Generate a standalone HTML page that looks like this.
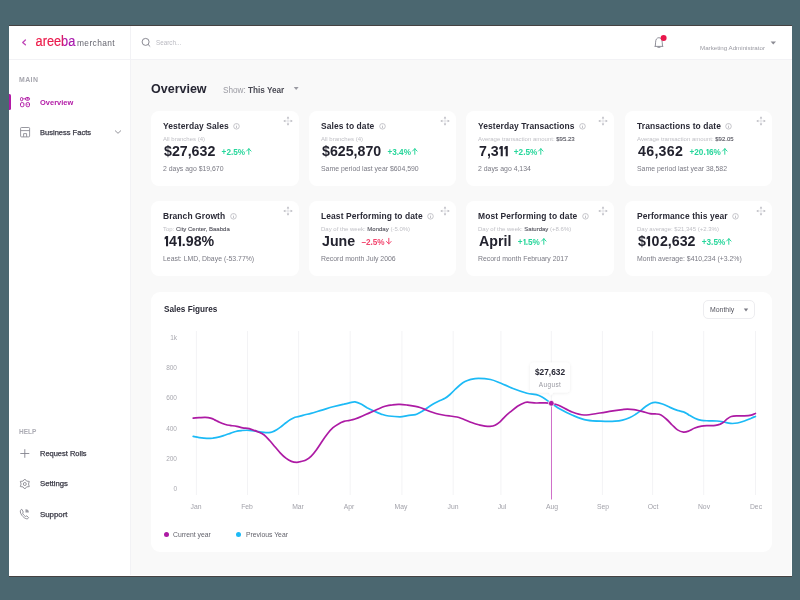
<!DOCTYPE html>
<html><head><meta charset="utf-8">
<style>
*{margin:0;padding:0;box-sizing:border-box}
.a{will-change:transform}
html,body{width:800px;height:600px;overflow:hidden;background:#4b6770;font-family:"Liberation Sans",sans-serif;position:relative}
.a{position:absolute;white-space:nowrap;line-height:1}
.b{font-weight:700}
.m{-webkit-text-stroke:0.25px currentColor}
.one{position:relative;display:inline-block;vertical-align:baseline;margin-left:0.4px}
.card{position:absolute;background:#fff;border-radius:8px;width:148px;height:75px}
svg{position:absolute;overflow:visible}
</style></head><body>
<div style="position:absolute;left:9px;top:25px;width:783px;height:1px;background:#454242"></div>
<div style="position:absolute;left:9px;top:576px;width:783px;height:1px;background:#454242"></div>
<div style="position:absolute;left:9px;top:26px;width:783px;height:550px;background:#fff"></div>
<div style="position:absolute;left:131px;top:60px;width:660px;height:515px;background:#f9f9f9"></div>
<div style="position:absolute;left:9px;top:59px;width:783px;height:1px;background:#f2f2f5"></div>
<div style="position:absolute;left:130px;top:26px;width:1px;height:549px;background:#f2f2f5"></div>
<svg style="left:20px;top:37px" width="8" height="11" viewBox="0 0 8 11"><path d="M5.4,3 L2.7,5.4 L5.4,7.8" fill="none" stroke="#c04ab9" stroke-width="1.35" stroke-linecap="round" stroke-linejoin="round"/></svg>
<svg style="left:34px;top:30px;will-change:transform" width="90" height="20" viewBox="0 0 90 20"><defs><linearGradient id="lg" gradientUnits="userSpaceOnUse" x1="0" x2="42" y1="0" y2="0"><stop offset="0" stop-color="#ee1b47"/><stop offset="0.66" stop-color="#e8194f"/><stop offset="0.72" stop-color="#b21aa8"/><stop offset="1" stop-color="#a518ae"/></linearGradient></defs>
<text x="1.6" y="16.2" font-family="Liberation Sans" font-size="14" fill="url(#lg)" stroke="url(#lg)" stroke-width="0.2" textLength="39.7" lengthAdjust="spacingAndGlyphs">areeba</text></svg>
<div class="a" style="left:77.2px;top:38.79px;font-size:8.4px;color:#65656f;letter-spacing:0.38px;">merchant</div>
<svg style="left:140px;top:36px" width="12" height="12" viewBox="0 0 12 12"><circle cx="5.6" cy="5.9" r="3.5" fill="none" stroke="#7c7c86" stroke-width="0.9"/><path d="M8.3,8.7 L9.9,10.3" stroke="#7c7c86" stroke-width="0.9" stroke-linecap="round"/></svg>
<div class="a" style="left:156.1px;top:39.77px;font-size:6.3px;color:#b9b9c0;">Search...</div>
<svg style="left:652px;top:34px" width="16" height="16" viewBox="0 0 16 16"><path d="M2.5,12.4 L11.3,12.4 M3.3,12.3 L3.6,8.2 C3.6,5.4 5,3.7 6.9,3.7 C8.8,3.7 10.2,5.4 10.2,8.2 L10.5,12.3" fill="none" stroke="#85858e" stroke-width="0.9" stroke-linejoin="round"/><path d="M5.9,13.3 L7.9,13.3" stroke="#85858e" stroke-width="1.1" stroke-linecap="round"/><circle cx="11.6" cy="4" r="3" fill="#e9174b"/></svg>
<div class="a" style="left:700px;top:44.75px;font-size:6.2px;color:#9a9aa2;">Marketing Administrator</div>
<svg style="left:770px;top:40.5px" width="7" height="5" viewBox="0 0 7 5"><path d="M0.6,0.6 L6,0.6 L3.3,3.5Z" fill="#8c8c94"/></svg>
<div class="a b" style="left:19px;top:76.56px;font-size:6.9px;color:#a6a6ae;letter-spacing:0.45px;">MAIN</div>
<div style="position:absolute;left:9px;top:94px;width:2px;height:16px;background:#b21aa6;border-radius:0 1.5px 1.5px 0"></div>
<svg style="left:19px;top:96px" width="12" height="12" viewBox="0 0 12 12" fill="none" stroke="#b21aa6" stroke-width="1"><rect x="1.5" y="1.5" width="2.2" height="3.3" rx="1.1"/><rect x="6.4" y="1.5" width="4.1" height="2.7" rx="1.35"/><path d="M3.7,2.8 L6.4,2.8" stroke-width="0.8"/><path d="M7.7,2.5 L9.3,2.5 L8.5,3.3Z" fill="#b21aa6" stroke-width="0.5"/><rect x="1.5" y="6.6" width="3.4" height="4.1" rx="1.3"/><rect x="7.1" y="6.6" width="3.4" height="4.1" rx="1.3"/><path d="M8.8,7.9 L8.8,9.4" stroke-width="0.6"/></svg>
<div class="a b" style="left:40.1px;top:99.70px;font-size:6.5px;color:#b21aa6;transform:scaleX(1.15);transform-origin:0 0;">Overview</div>
<svg style="left:19px;top:126px" width="12" height="12" viewBox="0 0 12 12" fill="none" stroke="#8c8c95" stroke-width="0.9"><rect x="1.6" y="1.5" width="9" height="9.4" rx="0.8"/><path d="M1.6,4.6 L10.6,4.6"/><path d="M4.6,10.9 L4.6,7.6 L7.6,7.6 L7.6,10.9"/></svg>
<div class="a m" style="left:40.1px;top:129.70px;font-size:6.5px;color:#3c3c48;transform:scaleX(1.157);transform-origin:0 0;">Business Facts</div>
<svg style="left:114px;top:129px" width="8" height="6" viewBox="0 0 8 6"><path d="M1,1.5 L4,4.3 L7,1.5" fill="none" stroke="#8a8a92" stroke-width="0.9"/></svg>
<div class="a b" style="left:19px;top:428.90px;font-size:6.5px;color:#acacb4;letter-spacing:0px;">HELP</div>
<svg style="left:19px;top:448px" width="12" height="12" viewBox="0 0 12 12" stroke="#85858e" stroke-width="0.9"><path d="M1.3,5.5 L10.3,5.5 M5.8,1.2 L5.8,9.8"/></svg>
<div class="a m" style="left:40.1px;top:450.70px;font-size:6.5px;color:#3c3c48;transform:scaleX(1.15);transform-origin:0 0;">Request Rolls</div>
<svg style="left:19px;top:477.5px" width="12" height="12" viewBox="0 0 12 12" fill="none" stroke="#8a8a92" stroke-width="0.9"><path d="M5.8,1 L7.6,3.1 L10.3,3.4 L9.5,6 L10.3,8.6 L7.6,8.9 L5.8,11 L4,8.9 L1.3,8.6 L2.1,6 L1.3,3.4 L4,3.1Z" stroke-linejoin="round"/><circle cx="5.8" cy="6" r="1.5"/></svg>
<div class="a m" style="left:40.1px;top:480.90px;font-size:6.5px;color:#3c3c48;transform:scaleX(1.19);transform-origin:0 0;">Settings</div>
<svg style="left:19px;top:508px" width="12" height="12" viewBox="0 0 12 12" fill="none" stroke="#85858e" stroke-width="0.9"><path d="M2.2,1.5 C0.8,2.5 1,5 3,7.5 C5,10 7.5,11.5 9,10.5 L9.6,9.7 L7.8,7.8 L6.6,8.5 C5.5,8 4,6.3 3.6,5.2 L4.3,4 L2.8,1.3Z" stroke-linejoin="round"/><path d="M6.5,1.2 A3.2,3.2 0 0 1 9.8,4.4 L6.5,4.4Z" fill="#9a9aa2" stroke="none"/></svg>
<div class="a m" style="left:40.1px;top:512.00px;font-size:6.5px;color:#3c3c48;transform:scaleX(1.21);transform-origin:0 0;">Support</div>
<div class="a b" style="left:151.3px;top:82.62px;font-size:12.5px;color:#262633;">Overview</div>
<div class="a" style="left:222.6px;top:86.66px;font-size:8.2px;color:#9a9aa2;">Show: <span class="b" style="color:#4a4a54">This Year</span></div>
<svg style="left:292.5px;top:86.4px" width="7" height="5" viewBox="0 0 7 5"><path d="M0.8,0.9 L5.6,0.9 L3.2,4Z" fill="#9a9aa2"/></svg>
<div class="card" style="left:151px;top:111px;width:148px"></div>
<div class="a b" style="left:163.0px;top:122.25px;font-size:8.45px;color:#2a2a36;letter-spacing:0.1px;">Yesterday Sales<svg style="position:relative;display:inline-block;vertical-align:baseline;margin-left:4.3px;top:0.9px" width="7" height="7" viewBox="0 0 7 7"><circle cx="3.5" cy="3.3" r="2.8" fill="none" stroke="#b4b4bb" stroke-width="0.75"/><path d="M3.5,3 L3.5,5.1" stroke="#b4b4bb" stroke-width="0.8"/><circle cx="3.5" cy="2" r="0.45" fill="#b4b4bb"/></svg></div>
<svg style="left:283px;top:116px" width="10" height="10" viewBox="0 0 10 10"><path d="M5,1.5 L5,8.5 M1.5,5 L8.5,5" stroke="#d6d6dc" stroke-width="0.6"/><path d="M5,0.2 L6.25,2.4 L3.75,2.4Z M5,9.8 L6.25,7.6 L3.75,7.6Z M0.2,5 L2.4,3.75 L2.4,6.25Z M9.8,5 L7.6,3.75 L7.6,6.25Z" fill="#b8b8bf"/></svg>
<div class="a" style="left:163.0px;top:136.12px;font-size:6.0px;color:#c0c0c6;">All branches (4)</div>
<div class="a b" style="left:163.5px;top:144.18px;font-size:14.2px;color:#23232f;">$27,632<span class="b" style="font-size:8.2px;color:#27d69b;margin-left:6.3px;position:relative;top:-1px">+2.5%<svg style="position:relative;display:inline-block;vertical-align:baseline;margin-left:1.2px;top:-0.3px" width="5.6" height="6.6" viewBox="0 0 5.6 6.6"><path d="M2.8,6.3 L2.8,0.7 M0.5,3.1 L2.8,0.7 L5.1,3.1" fill="none" stroke="#27d69b" stroke-width="1" stroke-linecap="round" stroke-linejoin="round"/></svg></span></div>
<div class="a" style="left:163.4px;top:165.96px;font-size:6.9px;color:#7a7a84;">2 days ago $19,670</div>
<div class="card" style="left:309px;top:111px;width:147px"></div>
<div class="a b" style="left:321.0px;top:122.25px;font-size:8.45px;color:#2a2a36;letter-spacing:0.1px;">Sales to date<svg style="position:relative;display:inline-block;vertical-align:baseline;margin-left:4.3px;top:0.9px" width="7" height="7" viewBox="0 0 7 7"><circle cx="3.5" cy="3.3" r="2.8" fill="none" stroke="#b4b4bb" stroke-width="0.75"/><path d="M3.5,3 L3.5,5.1" stroke="#b4b4bb" stroke-width="0.8"/><circle cx="3.5" cy="2" r="0.45" fill="#b4b4bb"/></svg></div>
<svg style="left:440px;top:116px" width="10" height="10" viewBox="0 0 10 10"><path d="M5,1.5 L5,8.5 M1.5,5 L8.5,5" stroke="#d6d6dc" stroke-width="0.6"/><path d="M5,0.2 L6.25,2.4 L3.75,2.4Z M5,9.8 L6.25,7.6 L3.75,7.6Z M0.2,5 L2.4,3.75 L2.4,6.25Z M9.8,5 L7.6,3.75 L7.6,6.25Z" fill="#b8b8bf"/></svg>
<div class="a" style="left:321.0px;top:136.12px;font-size:6.0px;color:#c0c0c6;">All branches (4)</div>
<div class="a b" style="left:321.5px;top:144.18px;font-size:14.2px;color:#23232f;">$625,870<span class="b" style="font-size:8.2px;color:#27d69b;margin-left:6.3px;position:relative;top:-1px">+3.4%<svg style="position:relative;display:inline-block;vertical-align:baseline;margin-left:1.2px;top:-0.3px" width="5.6" height="6.6" viewBox="0 0 5.6 6.6"><path d="M2.8,6.3 L2.8,0.7 M0.5,3.1 L2.8,0.7 L5.1,3.1" fill="none" stroke="#27d69b" stroke-width="1" stroke-linecap="round" stroke-linejoin="round"/></svg></span></div>
<div class="a" style="left:321.4px;top:165.96px;font-size:6.9px;color:#7a7a84;">Same period last year $604,590</div>
<div class="card" style="left:466px;top:111px;width:148px"></div>
<div class="a b" style="left:478.0px;top:122.25px;font-size:8.45px;color:#2a2a36;letter-spacing:0.1px;">Yesterday Transactions<svg style="position:relative;display:inline-block;vertical-align:baseline;margin-left:4.3px;top:0.9px" width="7" height="7" viewBox="0 0 7 7"><circle cx="3.5" cy="3.3" r="2.8" fill="none" stroke="#b4b4bb" stroke-width="0.75"/><path d="M3.5,3 L3.5,5.1" stroke="#b4b4bb" stroke-width="0.8"/><circle cx="3.5" cy="2" r="0.45" fill="#b4b4bb"/></svg></div>
<svg style="left:598px;top:116px" width="10" height="10" viewBox="0 0 10 10"><path d="M5,1.5 L5,8.5 M1.5,5 L8.5,5" stroke="#d6d6dc" stroke-width="0.6"/><path d="M5,0.2 L6.25,2.4 L3.75,2.4Z M5,9.8 L6.25,7.6 L3.75,7.6Z M0.2,5 L2.4,3.75 L2.4,6.25Z M9.8,5 L7.6,3.75 L7.6,6.25Z" fill="#b8b8bf"/></svg>
<div class="a" style="left:478.0px;top:136.12px;font-size:6.0px;color:#c0c0c6;">Average transaction amount: <b style="color:#55555f;font-weight:400;-webkit-text-stroke:0.12px currentColor">$95.23</b></div>
<div class="a b" style="left:478.5px;top:144.18px;font-size:14.2px;color:#23232f;">7,3<svg class="one" width="4.0" height="10.2" viewBox="0.3 0 4.0 10.2" preserveAspectRatio="none"><path d="M2,0 L4.1,0 L4.1,10.2 L2,10.2 L2,2.7 L0.6,3.5 L0.6,1.4Z" fill="currentColor"/></svg><svg class="one" width="4.0" height="10.2" viewBox="0.3 0 4.0 10.2" preserveAspectRatio="none"><path d="M2,0 L4.1,0 L4.1,10.2 L2,10.2 L2,2.7 L0.6,3.5 L0.6,1.4Z" fill="currentColor"/></svg><span class="b" style="font-size:8.2px;color:#27d69b;margin-left:6.3px;position:relative;top:-1px">+2.5%<svg style="position:relative;display:inline-block;vertical-align:baseline;margin-left:1.2px;top:-0.3px" width="5.6" height="6.6" viewBox="0 0 5.6 6.6"><path d="M2.8,6.3 L2.8,0.7 M0.5,3.1 L2.8,0.7 L5.1,3.1" fill="none" stroke="#27d69b" stroke-width="1" stroke-linecap="round" stroke-linejoin="round"/></svg></span></div>
<div class="a" style="left:478.4px;top:165.96px;font-size:6.9px;color:#7a7a84;">2 days ago 4,134</div>
<div class="card" style="left:625px;top:111px;width:147px"></div>
<div class="a b" style="left:637.0px;top:122.25px;font-size:8.45px;color:#2a2a36;letter-spacing:0.1px;">Transactions to date<svg style="position:relative;display:inline-block;vertical-align:baseline;margin-left:4.3px;top:0.9px" width="7" height="7" viewBox="0 0 7 7"><circle cx="3.5" cy="3.3" r="2.8" fill="none" stroke="#b4b4bb" stroke-width="0.75"/><path d="M3.5,3 L3.5,5.1" stroke="#b4b4bb" stroke-width="0.8"/><circle cx="3.5" cy="2" r="0.45" fill="#b4b4bb"/></svg></div>
<svg style="left:756px;top:116px" width="10" height="10" viewBox="0 0 10 10"><path d="M5,1.5 L5,8.5 M1.5,5 L8.5,5" stroke="#d6d6dc" stroke-width="0.6"/><path d="M5,0.2 L6.25,2.4 L3.75,2.4Z M5,9.8 L6.25,7.6 L3.75,7.6Z M0.2,5 L2.4,3.75 L2.4,6.25Z M9.8,5 L7.6,3.75 L7.6,6.25Z" fill="#b8b8bf"/></svg>
<div class="a" style="left:637.0px;top:136.12px;font-size:6.0px;color:#c0c0c6;">Average transaction amount: <b style="color:#55555f;font-weight:400;-webkit-text-stroke:0.12px currentColor">$92.05</b></div>
<div class="a b" style="left:637.5px;top:144.18px;font-size:14.2px;color:#23232f;"><span style="letter-spacing:0.3px">46,362</span><span class="b" style="font-size:8.2px;color:#27d69b;margin-left:6.3px;position:relative;top:-1px">+20.<svg class="one" width="2.9" height="6.05" viewBox="0 0 4.6 10.2"><path d="M2,0 L4.1,0 L4.1,10.2 L2,10.2 L2,2.7 L0.6,3.5 L0.6,1.4Z" fill="currentColor"/></svg>6%<svg style="position:relative;display:inline-block;vertical-align:baseline;margin-left:1.2px;top:-0.3px" width="5.6" height="6.6" viewBox="0 0 5.6 6.6"><path d="M2.8,6.3 L2.8,0.7 M0.5,3.1 L2.8,0.7 L5.1,3.1" fill="none" stroke="#27d69b" stroke-width="1" stroke-linecap="round" stroke-linejoin="round"/></svg></span></div>
<div class="a" style="left:637.4px;top:165.96px;font-size:6.9px;color:#7a7a84;">Same period last year 38,582</div>
<div class="card" style="left:151px;top:201px;width:148px"></div>
<div class="a b" style="left:163.0px;top:212.25px;font-size:8.45px;color:#2a2a36;letter-spacing:0.1px;">Branch Growth<svg style="position:relative;display:inline-block;vertical-align:baseline;margin-left:4.3px;top:0.9px" width="7" height="7" viewBox="0 0 7 7"><circle cx="3.5" cy="3.3" r="2.8" fill="none" stroke="#b4b4bb" stroke-width="0.75"/><path d="M3.5,3 L3.5,5.1" stroke="#b4b4bb" stroke-width="0.8"/><circle cx="3.5" cy="2" r="0.45" fill="#b4b4bb"/></svg></div>
<svg style="left:283px;top:206px" width="10" height="10" viewBox="0 0 10 10"><path d="M5,1.5 L5,8.5 M1.5,5 L8.5,5" stroke="#d6d6dc" stroke-width="0.6"/><path d="M5,0.2 L6.25,2.4 L3.75,2.4Z M5,9.8 L6.25,7.6 L3.75,7.6Z M0.2,5 L2.4,3.75 L2.4,6.25Z M9.8,5 L7.6,3.75 L7.6,6.25Z" fill="#b8b8bf"/></svg>
<div class="a" style="left:163.0px;top:226.12px;font-size:6.0px;color:#c0c0c6;">Top: <b style="color:#55555f;font-weight:400;-webkit-text-stroke:0.12px currentColor">City Center, Baabda</b></div>
<div class="a b" style="left:163.5px;top:234.18px;font-size:14.2px;color:#23232f;"><svg class="one" width="4.6" height="10.2" viewBox="0 0 4.6 10.2"><path d="M2,0 L4.1,0 L4.1,10.2 L2,10.2 L2,2.7 L0.6,3.5 L0.6,1.4Z" fill="currentColor"/></svg>4<svg class="one" width="4.6" height="10.2" viewBox="0 0 4.6 10.2"><path d="M2,0 L4.1,0 L4.1,10.2 L2,10.2 L2,2.7 L0.6,3.5 L0.6,1.4Z" fill="currentColor"/></svg>.98%</div>
<div class="a" style="left:163.4px;top:255.96px;font-size:6.9px;color:#7a7a84;">Least: LMD, Dbaye (-53.77%)</div>
<div class="card" style="left:309px;top:201px;width:147px"></div>
<div class="a b" style="left:321.0px;top:212.25px;font-size:8.45px;color:#2a2a36;letter-spacing:0.1px;">Least Performing to date<svg style="position:relative;display:inline-block;vertical-align:baseline;margin-left:4.3px;top:0.9px" width="7" height="7" viewBox="0 0 7 7"><circle cx="3.5" cy="3.3" r="2.8" fill="none" stroke="#b4b4bb" stroke-width="0.75"/><path d="M3.5,3 L3.5,5.1" stroke="#b4b4bb" stroke-width="0.8"/><circle cx="3.5" cy="2" r="0.45" fill="#b4b4bb"/></svg></div>
<svg style="left:440px;top:206px" width="10" height="10" viewBox="0 0 10 10"><path d="M5,1.5 L5,8.5 M1.5,5 L8.5,5" stroke="#d6d6dc" stroke-width="0.6"/><path d="M5,0.2 L6.25,2.4 L3.75,2.4Z M5,9.8 L6.25,7.6 L3.75,7.6Z M0.2,5 L2.4,3.75 L2.4,6.25Z M9.8,5 L7.6,3.75 L7.6,6.25Z" fill="#b8b8bf"/></svg>
<div class="a" style="left:321.0px;top:226.12px;font-size:6.0px;color:#c0c0c6;">Day of the week: <b style="color:#55555f;font-weight:400;-webkit-text-stroke:0.12px currentColor">Monday</b> (-5.0%)</div>
<div class="a b" style="left:321.5px;top:234.18px;font-size:14.2px;color:#23232f;">June<span class="b" style="font-size:8.2px;color:#f2466e;margin-left:6.3px;position:relative;top:-1px">&#8211;2.5%<svg style="position:relative;display:inline-block;vertical-align:baseline;margin-left:1.2px;top:-0.3px" width="5.6" height="6.6" viewBox="0 0 5.6 6.6"><path d="M2.8,0.3 L2.8,5.9 M0.5,3.5 L2.8,5.9 L5.1,3.5" fill="none" stroke="#f2466e" stroke-width="1" stroke-linecap="round" stroke-linejoin="round"/></svg></span></div>
<div class="a" style="left:321.4px;top:255.96px;font-size:6.9px;color:#7a7a84;">Record month July 2006</div>
<div class="card" style="left:466px;top:201px;width:148px"></div>
<div class="a b" style="left:478.0px;top:212.25px;font-size:8.45px;color:#2a2a36;letter-spacing:0.1px;">Most Performing to date<svg style="position:relative;display:inline-block;vertical-align:baseline;margin-left:4.3px;top:0.9px" width="7" height="7" viewBox="0 0 7 7"><circle cx="3.5" cy="3.3" r="2.8" fill="none" stroke="#b4b4bb" stroke-width="0.75"/><path d="M3.5,3 L3.5,5.1" stroke="#b4b4bb" stroke-width="0.8"/><circle cx="3.5" cy="2" r="0.45" fill="#b4b4bb"/></svg></div>
<svg style="left:598px;top:206px" width="10" height="10" viewBox="0 0 10 10"><path d="M5,1.5 L5,8.5 M1.5,5 L8.5,5" stroke="#d6d6dc" stroke-width="0.6"/><path d="M5,0.2 L6.25,2.4 L3.75,2.4Z M5,9.8 L6.25,7.6 L3.75,7.6Z M0.2,5 L2.4,3.75 L2.4,6.25Z M9.8,5 L7.6,3.75 L7.6,6.25Z" fill="#b8b8bf"/></svg>
<div class="a" style="left:478.0px;top:226.12px;font-size:6.0px;color:#c0c0c6;">Day of the week: <b style="color:#55555f;font-weight:400;-webkit-text-stroke:0.12px currentColor">Saturday</b> (+8.6%)</div>
<div class="a b" style="left:478.5px;top:234.18px;font-size:14.2px;color:#23232f;">April<span class="b" style="font-size:8.2px;color:#27d69b;margin-left:6.3px;position:relative;top:-1px">+<svg class="one" width="2.9" height="6.05" viewBox="0 0 4.6 10.2"><path d="M2,0 L4.1,0 L4.1,10.2 L2,10.2 L2,2.7 L0.6,3.5 L0.6,1.4Z" fill="currentColor"/></svg>.5%<svg style="position:relative;display:inline-block;vertical-align:baseline;margin-left:1.2px;top:-0.3px" width="5.6" height="6.6" viewBox="0 0 5.6 6.6"><path d="M2.8,6.3 L2.8,0.7 M0.5,3.1 L2.8,0.7 L5.1,3.1" fill="none" stroke="#27d69b" stroke-width="1" stroke-linecap="round" stroke-linejoin="round"/></svg></span></div>
<div class="a" style="left:478.4px;top:255.96px;font-size:6.9px;color:#7a7a84;">Record month February 2017</div>
<div class="card" style="left:625px;top:201px;width:147px"></div>
<div class="a b" style="left:637.0px;top:212.25px;font-size:8.45px;color:#2a2a36;letter-spacing:0.1px;">Performance this year<svg style="position:relative;display:inline-block;vertical-align:baseline;margin-left:4.3px;top:0.9px" width="7" height="7" viewBox="0 0 7 7"><circle cx="3.5" cy="3.3" r="2.8" fill="none" stroke="#b4b4bb" stroke-width="0.75"/><path d="M3.5,3 L3.5,5.1" stroke="#b4b4bb" stroke-width="0.8"/><circle cx="3.5" cy="2" r="0.45" fill="#b4b4bb"/></svg></div>
<svg style="left:756px;top:206px" width="10" height="10" viewBox="0 0 10 10"><path d="M5,1.5 L5,8.5 M1.5,5 L8.5,5" stroke="#d6d6dc" stroke-width="0.6"/><path d="M5,0.2 L6.25,2.4 L3.75,2.4Z M5,9.8 L6.25,7.6 L3.75,7.6Z M0.2,5 L2.4,3.75 L2.4,6.25Z M9.8,5 L7.6,3.75 L7.6,6.25Z" fill="#b8b8bf"/></svg>
<div class="a" style="left:637.0px;top:226.12px;font-size:6.0px;color:#c0c0c6;">Day average: $21,345 (+2.3%)</div>
<div class="a b" style="left:637.5px;top:234.18px;font-size:14.2px;color:#23232f;">$<svg class="one" width="4.6" height="10.2" viewBox="0 0 4.6 10.2"><path d="M2,0 L4.1,0 L4.1,10.2 L2,10.2 L2,2.7 L0.6,3.5 L0.6,1.4Z" fill="currentColor"/></svg><span style="margin:0 0.6px">0</span>2,632<span class="b" style="font-size:8.2px;color:#27d69b;margin-left:6.3px;position:relative;top:-1px">+3.5%<svg style="position:relative;display:inline-block;vertical-align:baseline;margin-left:1.2px;top:-0.3px" width="5.6" height="6.6" viewBox="0 0 5.6 6.6"><path d="M2.8,6.3 L2.8,0.7 M0.5,3.1 L2.8,0.7 L5.1,3.1" fill="none" stroke="#27d69b" stroke-width="1" stroke-linecap="round" stroke-linejoin="round"/></svg></span></div>
<div class="a" style="left:637.4px;top:255.96px;font-size:6.9px;color:#7a7a84;">Month average: $410,234 (+3.2%)</div>
<!--INFO-->
<div style="position:absolute;left:151px;top:292px;width:621px;height:260px;background:#fff;border-radius:9px"></div>
<div class="a b" style="left:163.7px;top:305.56px;font-size:8.2px;color:#2a2a36;">Sales Figures</div>
<div style="position:absolute;left:703px;top:300px;width:52px;height:19px;border:1px solid #ededf0;border-radius:5px"></div>
<div class="a" style="left:709.5px;top:307.36px;font-size:6.9px;color:#55555f;">Monthly</div>
<svg style="left:742px;top:307px" width="7" height="5" viewBox="0 0 7 5"><path d="M1.8,1.4 L6.2,1.4 L4,4.6Z" fill="#7a7a84"/></svg>
<svg style="left:0;top:0" width="800" height="600" viewBox="0 0 800 600">
<line x1="196.4" y1="331" x2="196.4" y2="495" stroke="#f3f3f5" stroke-width="1"/>
<line x1="247.5" y1="331" x2="247.5" y2="495" stroke="#f3f3f5" stroke-width="1"/>
<line x1="298.6" y1="331" x2="298.6" y2="495" stroke="#f3f3f5" stroke-width="1"/>
<line x1="350.2" y1="331" x2="350.2" y2="495" stroke="#f3f3f5" stroke-width="1"/>
<line x1="401.9" y1="331" x2="401.9" y2="495" stroke="#f3f3f5" stroke-width="1"/>
<line x1="453.2" y1="331" x2="453.2" y2="495" stroke="#f3f3f5" stroke-width="1"/>
<line x1="500.9" y1="331" x2="500.9" y2="495" stroke="#f3f3f5" stroke-width="1"/>
<line x1="551.3" y1="331" x2="551.3" y2="495" stroke="#f3f3f5" stroke-width="1"/>
<line x1="602.4" y1="331" x2="602.4" y2="495" stroke="#f3f3f5" stroke-width="1"/>
<line x1="652.6" y1="331" x2="652.6" y2="495" stroke="#f3f3f5" stroke-width="1"/>
<line x1="703.7" y1="331" x2="703.7" y2="495" stroke="#f3f3f5" stroke-width="1"/>
<line x1="755.5" y1="331" x2="755.5" y2="495" stroke="#f3f3f5" stroke-width="1"/>
<path d="M193.2,436.4 C194.2,436.6 197.0,437.3 199.2,437.6 C201.5,437.9 204.5,438.3 206.8,438.4 C209.0,438.5 210.6,438.4 212.8,438.2 C214.9,437.9 217.4,437.4 219.5,436.9 C221.6,436.4 223.6,435.6 225.5,435.0 C227.4,434.4 228.9,433.7 230.8,433.1 C232.6,432.5 234.9,431.7 236.8,431.2 C238.6,430.8 239.9,430.7 242.0,430.5 C244.1,430.3 246.5,430.1 249.2,430.3 C251.9,430.5 255.9,431.2 258.3,431.6 C260.8,432.0 262.2,432.2 263.9,432.4 C265.6,432.6 267.1,432.7 268.5,432.6 C269.9,432.5 270.7,432.5 272.1,432.0 C273.5,431.5 275.2,430.6 276.7,429.7 C278.2,428.8 279.8,427.6 281.3,426.5 C282.8,425.4 284.4,423.9 285.9,422.8 C287.4,421.7 289.0,420.5 290.5,419.6 C292.0,418.7 293.4,417.9 295.0,417.3 C296.6,416.7 298.3,416.6 300.0,416.2 C301.7,415.8 303.2,415.2 305.0,414.7 C306.8,414.2 308.2,414.2 311.0,413.4 C313.8,412.6 318.3,411.2 322.0,410.1 C325.7,409.0 329.3,407.8 333.0,406.8 C336.7,405.8 341.2,404.7 344.0,404.1 C346.8,403.4 348.2,403.1 350.0,402.7 C351.8,402.3 353.2,401.7 355.0,401.9 C356.8,402.1 359.0,403.0 361.0,404.0 C363.0,405.0 364.9,406.6 367.0,407.8 C369.1,408.9 371.4,410.0 373.8,411.1 C376.1,412.2 378.8,413.3 381.2,414.1 C383.8,414.9 385.6,415.6 388.8,416.0 C391.9,416.4 396.9,416.8 400.0,416.8 C403.1,416.7 404.9,416.0 407.5,415.6 C410.1,415.2 413.4,415.1 415.5,414.6 C417.6,414.1 418.4,413.4 420.0,412.5 C421.6,411.6 423.3,410.6 425.0,409.5 C426.7,408.4 428.3,407.1 430.0,406.0 C431.7,404.9 433.3,403.9 435.0,403.0 C436.7,402.1 438.3,401.3 440.0,400.5 C441.7,399.7 443.3,399.3 445.0,398.3 C446.7,397.3 448.3,396.0 450.0,394.5 C451.7,393.0 453.3,391.1 455.0,389.5 C456.7,387.9 458.3,386.3 460.0,385.0 C461.7,383.7 463.3,382.5 465.0,381.6 C466.7,380.7 467.8,380.2 470.0,379.6 C472.2,379.1 475.1,378.3 478.5,378.3 C481.9,378.3 486.8,378.7 490.5,379.5 C494.2,380.3 497.2,381.8 501.0,383.2 C504.8,384.8 508.7,386.8 513.0,388.5 C517.3,390.2 522.7,392.1 527.0,393.2 C531.3,394.4 535.0,393.9 539.0,395.5 C543.0,397.1 547.5,400.8 551.0,403.0 C554.5,405.2 556.5,407.0 560.0,409.0 C563.5,411.0 567.5,413.1 572.0,415.0 C576.5,416.9 581.5,419.2 587.0,420.2 C592.5,421.3 600.3,421.1 605.0,421.3 C609.7,421.5 612.1,421.4 615.0,421.2 C617.9,421.0 620.0,420.7 622.5,420.1 C625.0,419.5 627.8,418.5 630.0,417.5 C632.2,416.5 634.2,415.2 636.0,414.1 C637.8,413.0 639.0,411.9 640.5,410.8 C642.0,409.6 643.2,408.2 645.0,407.0 C646.8,405.8 649.2,404.0 651.0,403.2 C652.8,402.5 653.6,402.3 655.5,402.4 C657.4,402.5 660.1,403.2 662.5,404.0 C664.9,404.8 667.5,406.3 670.0,407.4 C672.5,408.5 675.2,409.6 677.5,410.4 C679.8,411.1 681.6,411.1 683.5,411.9 C685.4,412.6 686.9,413.8 688.8,414.9 C690.6,416.0 692.6,417.3 694.8,418.2 C696.9,419.2 699.1,420.0 701.5,420.4 C703.9,420.8 706.4,420.7 709.0,420.8 C711.6,420.9 714.4,420.8 716.9,421.0 C719.4,421.2 721.5,421.6 723.8,422.0 C726.0,422.4 728.3,423.2 730.6,423.4 C732.9,423.6 735.2,423.4 737.5,423.0 C739.8,422.6 742.1,421.8 744.4,421.0 C746.7,420.2 749.4,418.9 751.2,418.2 C753.0,417.4 754.7,416.8 755.4,416.5" fill="none" stroke="#1cbaf6" stroke-width="1.7" stroke-linecap="round"/>
<path d="M193.2,418.1 C194.2,418.0 197.0,417.8 199.0,417.7 C201.0,417.6 203.3,417.3 205.2,417.4 C207.2,417.5 209.0,417.7 210.5,418.1 C212.0,418.5 212.8,418.9 214.2,419.6 C215.8,420.3 217.6,421.4 219.5,422.2 C221.4,423.1 223.8,424.0 225.5,424.5 C227.2,425.0 228.1,425.1 230.0,425.4 C231.9,425.7 234.6,426.0 236.8,426.4 C238.9,426.8 240.7,427.5 242.8,427.9 C244.8,428.3 246.6,427.9 249.2,428.6 C251.8,429.3 255.9,431.0 258.3,432.0 C260.8,433.0 262.0,433.4 263.9,434.8 C265.8,436.2 267.6,438.3 269.4,440.3 C271.2,442.3 273.1,444.6 274.9,446.7 C276.7,448.8 278.6,451.2 280.4,453.1 C282.2,455.0 284.1,456.8 285.9,458.2 C287.7,459.6 289.6,460.7 291.4,461.4 C293.2,462.1 295.4,462.3 296.9,462.3 C298.4,462.3 299.1,462.0 300.5,461.6 C301.9,461.2 303.8,461.1 305.5,460.2 C307.2,459.3 309.2,458.1 311.0,456.3 C312.8,454.6 314.7,452.2 316.5,449.7 C318.3,447.2 320.2,444.2 322.0,441.5 C323.8,438.8 325.7,436.1 327.5,433.8 C329.3,431.4 331.2,429.3 333.0,427.7 C334.8,426.1 336.7,424.9 338.5,423.9 C340.3,422.8 342.2,422.0 344.0,421.4 C345.8,420.8 347.7,420.8 349.5,420.4 C351.3,420.0 352.8,419.7 355.0,419.0 C357.2,418.3 360.0,417.1 362.5,416.0 C365.0,414.9 367.5,413.7 370.0,412.6 C372.5,411.5 375.0,410.3 377.5,409.2 C380.0,408.2 382.5,407.1 385.0,406.3 C387.5,405.6 390.0,405.1 392.5,404.8 C395.0,404.4 397.5,404.3 400.0,404.4 C402.5,404.5 404.9,404.8 407.5,405.1 C410.1,405.4 413.4,406.0 415.5,406.4 C417.6,406.8 418.4,407.0 420.0,407.5 C421.6,408.0 423.3,408.8 425.0,409.5 C426.7,410.2 428.2,410.8 430.0,411.5 C431.8,412.2 433.8,412.9 436.0,413.5 C438.2,414.1 440.7,414.6 443.0,415.0 C445.3,415.4 447.7,415.7 450.0,416.0 C452.3,416.3 454.8,416.5 457.0,417.0 C459.2,417.5 460.8,418.2 463.0,419.0 C465.2,419.8 468.0,421.2 470.0,422.0 C472.0,422.8 473.3,423.2 475.0,423.7 C476.7,424.2 478.3,424.8 480.0,425.2 C481.7,425.6 483.3,425.9 485.0,426.1 C486.7,426.3 488.3,426.5 490.0,426.4 C491.7,426.2 493.3,426.0 495.0,425.2 C496.7,424.4 498.3,423.2 500.0,421.8 C501.7,420.4 503.3,418.2 505.0,416.6 C506.7,415.0 507.9,413.9 510.0,412.2 C512.1,410.5 515.0,407.9 517.5,406.2 C520.0,404.6 523.1,403.2 525.0,402.5 C526.9,401.8 527.2,402.2 529.0,402.3 C530.8,402.4 533.5,402.9 536.0,403.0 C538.5,403.1 541.2,402.8 543.8,402.9 C546.2,403.0 548.5,403.0 551.0,403.4 C553.5,403.8 555.0,403.8 558.5,405.2 C562.0,406.7 567.8,410.4 572.0,412.0 C576.2,413.6 579.3,414.8 584.0,415.0 C588.7,415.2 595.5,413.6 600.0,413.0 C604.5,412.4 607.5,411.7 611.2,411.1 C615.0,410.5 619.8,409.9 622.5,409.6 C625.2,409.3 625.6,409.2 627.5,409.2 C629.4,409.2 631.6,409.3 633.8,409.6 C635.9,409.9 638.6,410.7 640.5,411.1 C642.4,411.5 643.4,411.8 645.0,412.2 C646.6,412.7 648.3,413.3 650.0,413.6 C651.7,413.9 653.2,413.7 655.0,413.9 C656.8,414.1 659.1,414.0 661.0,414.9 C662.9,415.8 664.4,417.3 666.2,419.0 C668.1,420.7 670.4,423.2 672.2,425.0 C674.1,426.8 675.6,428.7 677.5,429.9 C679.4,431.1 681.6,431.9 683.5,432.1 C685.4,432.3 686.9,431.7 688.8,431.0 C690.6,430.3 692.6,428.8 694.8,428.0 C696.9,427.2 699.3,426.5 701.5,426.1 C703.7,425.7 705.7,425.7 708.0,425.6 C710.3,425.5 713.5,425.6 715.5,425.3 C717.5,425.0 718.9,424.6 720.3,424.1 C721.7,423.5 722.6,422.9 723.8,422.0 C724.9,421.1 725.9,419.8 727.2,418.9 C728.5,418.0 729.6,417.0 731.3,416.5 C733.0,416.0 735.3,416.0 737.5,415.9 C739.7,415.8 742.1,416.0 744.4,415.9 C746.7,415.8 749.4,415.6 751.2,415.2 C753.0,414.9 754.7,413.8 755.4,413.5" fill="none" stroke="#ad1aa4" stroke-width="1.7" stroke-linecap="round"/>
<line x1="551.5" y1="403" x2="551.5" y2="499.5" stroke="#d070c9" stroke-width="1"/>
<circle cx="551.3" cy="403.3" r="2.9" fill="#ad1aa4" stroke="#fff" stroke-width="0.8"/>
<defs><filter id="sh" x="-30%" y="-30%" width="160%" height="160%"><feDropShadow dx="0" dy="0.5" stdDeviation="1.5" flood-color="#000" flood-opacity="0.08"/></filter></defs>
<path d="M534,362.5 L566,362.5 Q570,362.5 570,366.5 L570,388.5 Q570,392.5 566,392.5 L553.5,392.5 L551,395.5 L548.5,392.5 L534,392.5 Q530,392.5 530,388.5 L530,366.5 Q530,362.5 534,362.5Z" fill="#fff" filter="url(#sh)"/>
</svg>
<div class="a" style="left:147px;width:30px;text-align:right;top:334.90px;font-size:6.5px;color:#a9a9b0;">1k</div>
<div class="a" style="left:147px;width:30px;text-align:right;top:365.16px;font-size:6.5px;color:#a9a9b0;">800</div>
<div class="a" style="left:147px;width:30px;text-align:right;top:395.42px;font-size:6.5px;color:#a9a9b0;">600</div>
<div class="a" style="left:147px;width:30px;text-align:right;top:425.68px;font-size:6.5px;color:#a9a9b0;">400</div>
<div class="a" style="left:147px;width:30px;text-align:right;top:455.94px;font-size:6.5px;color:#a9a9b0;">200</div>
<div class="a" style="left:147px;width:30px;text-align:right;top:486.20px;font-size:6.5px;color:#a9a9b0;">0</div>
<div class="a" style="left:176.0px;width:40px;text-align:center;top:504.04px;font-size:6.8px;color:#a2a2aa;">Jan</div>
<div class="a" style="left:226.6px;width:40px;text-align:center;top:504.04px;font-size:6.8px;color:#a2a2aa;">Feb</div>
<div class="a" style="left:278.1px;width:40px;text-align:center;top:504.04px;font-size:6.8px;color:#a2a2aa;">Mar</div>
<div class="a" style="left:329.2px;width:40px;text-align:center;top:504.04px;font-size:6.8px;color:#a2a2aa;">Apr</div>
<div class="a" style="left:380.6px;width:40px;text-align:center;top:504.04px;font-size:6.8px;color:#a2a2aa;">May</div>
<div class="a" style="left:432.7px;width:40px;text-align:center;top:504.04px;font-size:6.8px;color:#a2a2aa;">Jun</div>
<div class="a" style="left:481.6px;width:40px;text-align:center;top:504.04px;font-size:6.8px;color:#a2a2aa;">Jul</div>
<div class="a" style="left:531.8px;width:40px;text-align:center;top:504.04px;font-size:6.8px;color:#a2a2aa;">Aug</div>
<div class="a" style="left:582.8px;width:40px;text-align:center;top:504.04px;font-size:6.8px;color:#a2a2aa;">Sep</div>
<div class="a" style="left:633.0px;width:40px;text-align:center;top:504.04px;font-size:6.8px;color:#a2a2aa;">Oct</div>
<div class="a" style="left:683.9px;width:40px;text-align:center;top:504.04px;font-size:6.8px;color:#a2a2aa;">Nov</div>
<div class="a" style="left:735.7px;width:40px;text-align:center;top:504.04px;font-size:6.8px;color:#a2a2aa;">Dec</div>
<div class="a b" style="left:530.3px;width:40px;text-align:center;top:368.27px;font-size:8.3px;color:#262633;">$27,632</div>
<div class="a" style="left:530.3px;width:40px;text-align:center;top:381.50px;font-size:6.5px;color:#9a9aa2;letter-spacing:0.35px;">August</div>
<div style="position:absolute;left:163.6px;top:531.6px;width:5.4px;height:5.4px;border-radius:50%;background:#ad1aa4"></div>
<div class="a" style="left:173px;top:531.74px;font-size:6.8px;color:#63636c;">Current year</div>
<div style="position:absolute;left:235.8px;top:531.6px;width:5.4px;height:5.4px;border-radius:50%;background:#1cbaf6"></div>
<div class="a" style="left:246px;top:531.74px;font-size:6.8px;color:#63636c;">Previous Year</div>
</body></html>
